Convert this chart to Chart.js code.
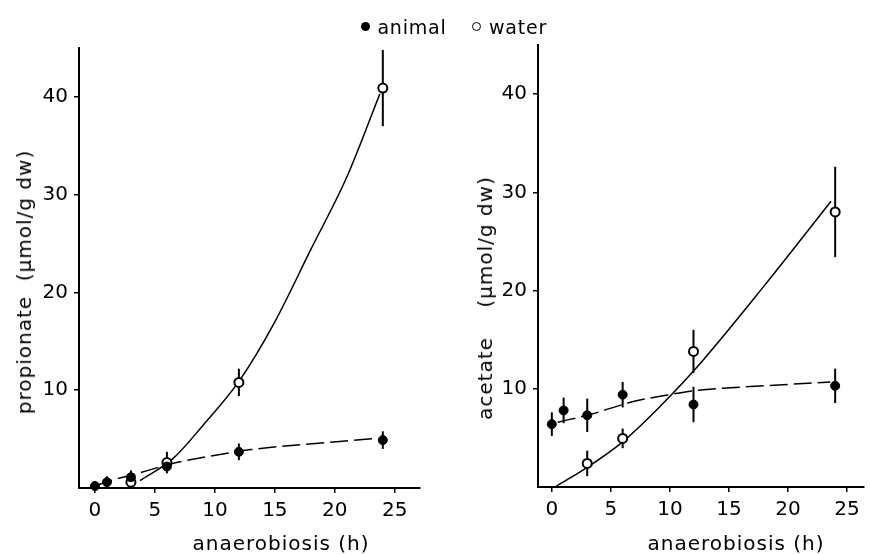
<!DOCTYPE html>
<html>
<head>
<meta charset="utf-8">
<script src="https://cdn.jsdelivr.net/npm/chart.js@4.4.0/dist/chart.umd.min.js"></script>
<style>
  body { margin: 0; background: #fff; }
  #wrap { position: relative; width: 870px; height: 554px; overflow: hidden; color: #000;
          font-family: "DejaVu Sans", sans-serif; }
  canvas { position: absolute; top: 0; }
  .lbl { position: absolute; white-space: nowrap; font-size: 20px; letter-spacing: 1px;
         line-height: 1; transform: translate(-50%, -50%); }
  .rot { transform: translate(-50%, -50%) rotate(-90deg); }
  .leg { font-size: 19px; letter-spacing: 0.8px; }
  .dot { position: absolute; width: 9px; height: 9px; border-radius: 50%; box-sizing: border-box; }
</style>
</head>
<body>
<div id="wrap">
  <canvas id="left" width="435" height="554" style="left:0"></canvas>
  <canvas id="right" width="435" height="554" style="left:435px"></canvas>

  <div class="dot" style="left:361px;top:22px;background:#000"></div>
  <div class="lbl leg" style="left:412px;top:27px">animal</div>
  <div class="dot" style="left:472px;top:22px;border:1.6px solid #000;background:#fff"></div>
  <div class="lbl leg" style="left:518px;top:27px">water</div>

  <div class="lbl rot" style="left:24px;top:282px">propionate&nbsp;&nbsp;(µmol/g dw)</div>
  <div class="lbl" style="left:281px;top:543px">anaerobiosis (h)</div>
  <div class="lbl rot" style="left:485px;top:298px">acetate&nbsp;&nbsp;&nbsp;&nbsp;(µmol/g dw)</div>
  <div class="lbl" style="left:736px;top:543px">anaerobiosis (h)</div>
</div>
<script>
// sampling times (h)
const hours = [0, 1, 3, 6, 12, 24];
const waterHours = [3, 6, 12, 24];

// propionate, µmol/g dw
const propAnimal = [0.2, 0.6, 1.1, 2.2, 3.7, 4.9];
const propAnimalErr = [0, 0.6, 0.7, 0.5, 0.85, 0.9];
const propWater = [0.6, 2.6, 10.8, 40.9];
const propWaterErr = [0, 1.1, 1.4, 3.9];

// acetate, µmol/g dw
const acetAnimal = [6.4, 7.8, 7.3, 9.4, 8.4, 10.3];
const acetAnimalErr = [1.2, 1.3, 1.7, 1.3, 1.8, 1.75];
const acetWater = [2.4, 4.95, 13.8, 28.0];
const acetWaterErr = [1.3, 1.0, 2.2, 4.6];

// hand drawn curves
const propAnimalFitX = [0, 1, 3, 6.8, 11.25, 12.8, 19.9, 23.5];
const propAnimalFitY = [0.2, 0.65, 1.3, 2.6, 3.6, 3.9, 4.7, 5.07];
const propWaterFitX = [3.75, 6.5, 9, 12, 15, 18, 21, 23.75];
const propWaterFitY = [0.75, 3.0, 6.4, 10.9, 17.0, 24.4, 31.8, 40.3];
const acetAnimalFitX = [0.5, 3.3, 6.9, 9.7, 12.4, 18, 23.6];
const acetAnimalFitY = [6.6, 7.4, 8.7, 9.35, 9.85, 10.3, 10.7];
const acetWaterFitX = [0.4, 3, 6, 9, 12, 18, 23.65];
const acetWaterFitY = [0.1, 2.0, 4.6, 8.0, 11.8, 20.5, 29.1];

const xTicks = [0, 5, 10, 15, 20, 25];
const yTicks = [10, 20, 30, 40];

const FONT = { family: "'DejaVu Sans', sans-serif", size: 20 };

function pts(xs, ys) {
  return xs.map((x, i) => ({ x: x, y: ys[i] }));
}

// vertical error bars, drawn under the markers
const errorBars = {
  id: 'errorBars',
  beforeDatasetsDraw(chart) {
    const ctx = chart.ctx;
    const sx = chart.scales.x, sy = chart.scales.y;
    ctx.save();
    ctx.strokeStyle = '#000';
    ctx.lineWidth = 2;
    chart.data.datasets.forEach(ds => {
      if (!ds.err) return;
      ds.data.forEach((p, i) => {
        const e = ds.err[i];
        if (!e) return;
        const px = sx.getPixelForValue(p.x);
        ctx.beginPath();
        ctx.moveTo(px, sy.getPixelForValue(p.y - e));
        ctx.lineTo(px, sy.getPixelForValue(p.y + e));
        ctx.stroke();
      });
    });
    ctx.restore();
  }
};

function fitLine(xs, ys, dashed) {
  return {
    data: pts(xs, ys),
    showLine: true,
    pointRadius: 0,
    borderColor: '#000',
    borderWidth: 1.5,
    borderDash: dashed ? [18, 6] : [],
    cubicInterpolationMode: 'monotone',
    fill: false
  };
}

function markers(xs, ys, err, open) {
  return {
    data: pts(xs, ys),
    err: err,
    showLine: false,
    pointRadius: 4.5,
    pointHoverRadius: 4.5,
    pointBackgroundColor: open ? '#fff' : '#000',
    pointBorderColor: '#000',
    pointBorderWidth: open ? 2 : 1,
    clip: false
  };
}

function panel(id, datasets, xMin, xMax, yWidth, xHeight, pad) {
  return new Chart(document.getElementById(id), {
    type: 'scatter',
    data: { datasets: datasets },
    options: {
      responsive: false,
      animation: false,
      devicePixelRatio: 1,
      layout: { padding: pad },
      plugins: { legend: { display: false }, tooltip: { enabled: false } },
      scales: {
        x: {
          type: 'linear', min: xMin, max: xMax,
          afterBuildTicks: s => { s.ticks = xTicks.map(v => ({ value: v })); },
          afterFit: s => { s.height = xHeight; },
          grid: { display: true, drawOnChartArea: false, drawTicks: true, tickLength: 5, color: '#000', lineWidth: 1.5 },
          border: { display: true, color: '#000', width: 2 },
          ticks: { color: '#000', font: FONT, padding: 6, maxRotation: 0 }
        },
        y: {
          type: 'linear', min: 0, max: 45,
          afterBuildTicks: s => { s.ticks = yTicks.map(v => ({ value: v })); },
          afterFit: s => { s.width = yWidth; },
          grid: { display: true, drawOnChartArea: false, drawTicks: true, tickLength: 5, color: '#000', lineWidth: 1.5 },
          border: { display: true, color: '#000', width: 2 },
          ticks: { color: '#000', font: FONT, padding: 6 }
        }
      }
    },
    plugins: [errorBars]
  });
}

panel('left', [
  markers(hours, propAnimal, propAnimalErr, false),
  markers(waterHours, propWater, propWaterErr, true),
  fitLine(propAnimalFitX, propAnimalFitY, true),
  fitLine(propWaterFitX, propWaterFitY, false)
], -1.33, 27.1, 79, 66, { left: 0, top: 48, right: 15, bottom: 0 });

panel('right', [
  markers(hours, acetAnimal, acetAnimalErr, false),
  markers(waterHours, acetWater, acetWaterErr, true),
  fitLine(acetAnimalFitX, acetAnimalFitY, true),
  fitLine(acetWaterFitX, acetWaterFitY, false)
], -1.17, 26.4, 103, 67, { left: 0, top: 45, right: 0, bottom: 0 });
</script>
</body>
</html>
